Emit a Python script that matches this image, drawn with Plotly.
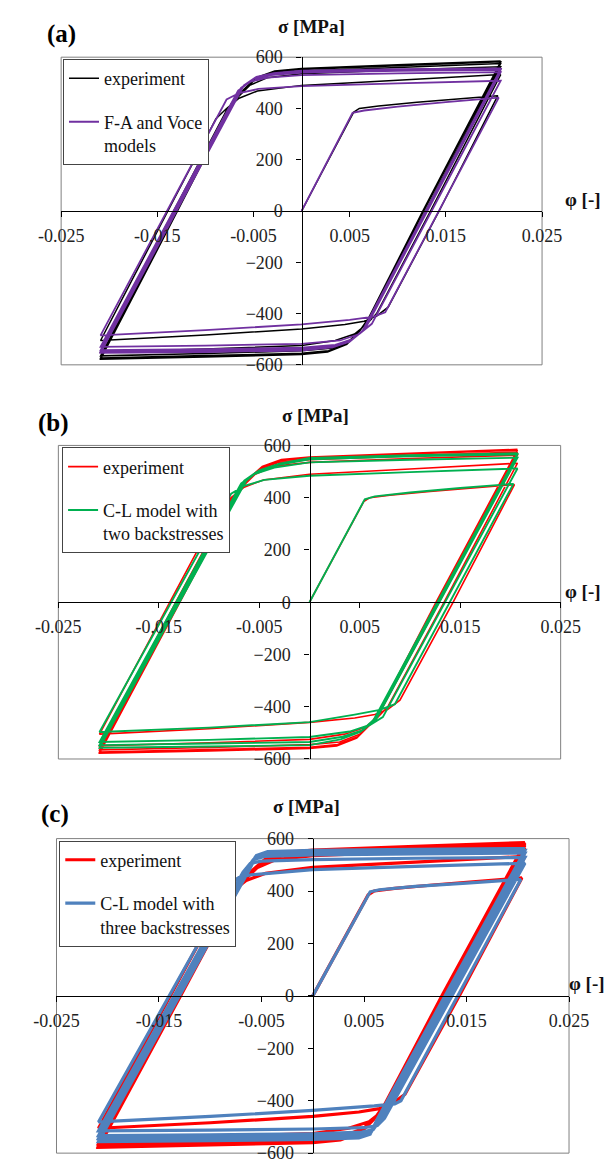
import plotly.graph_objects as go

# ---------------- data (strain phi [-], stress sigma [MPa]) ----------------
# Experiment (same test shown in all three panels), one list per loading branch
exp_strain = [
    [0.0, 0.0054, 0.0060, 0.0080, 0.0120, 0.0160, 0.0204],
    [0.0204, 0.0143, 0.0090, 0.0078, 0.0065, 0.0045, 0.0, -0.0100, -0.0209],
    [-0.0209, -0.0139, -0.0089, -0.0078, -0.0065, -0.0046, 0.0, 0.0100, 0.0207],
    [0.0207, 0.0134, 0.0078, 0.0068, 0.0055, 0.0035, 0.0, -0.0100, -0.0209],
    [-0.0209, -0.0133, -0.0077, -0.0066, -0.0054, -0.0036, 0.0, 0.0100, 0.0207],
    [0.0207, 0.0129, 0.0073, 0.0063, 0.0050, 0.0030, 0.0, -0.0100, -0.0209],
    [-0.0209, -0.0131, -0.0073, -0.0062, -0.0049, -0.0031, 0.0, 0.0100, 0.0207],
    [0.0207, 0.0127, 0.0071, 0.0061, 0.0048, 0.0028, 0.0, -0.0100, -0.0209],
    [-0.0209, -0.0130, -0.0071, -0.0061, -0.0048, -0.0029, 0.0, 0.0100, 0.0207],
    [0.0207, 0.0126, 0.0070, 0.0060, 0.0047, 0.0027, 0.0, -0.0100, -0.0209],
    [-0.0209, -0.0129, -0.0070, -0.0060, -0.0047, -0.0028, 0.0, 0.0100, 0.0207],
]
exp_stress = [
    [0, 385, 400, 410, 424, 437, 450],
    [450, 0, -375, -410, -430, -443, -460, -484, -505],
    [-505, 0, 360, 400, 440, 468, 490, 510, 532],
    [532, 0, -400, -440, -480, -505, -525, -538, -550],
    [-550, 0, 400, 445, 490, 520, 535, 550, 563],
    [563, 0, -400, -455, -505, -535, -545, -556, -565],
    [-565, 0, 420, 465, 510, 535, 545, 560, 575],
    [575, 0, -410, -465, -515, -545, -555, -564, -573],
    [-573, 0, 425, 470, 515, 542, 552, 567, 582],
    [582, 0, -415, -470, -520, -550, -560, -569, -578],
    [-578, 0, 430, 475, 520, 546, 556, 570, 585],
]

# (a) F-A and Voce models
fa_strain = [
    [0.0, 0.0053, 0.0065, 0.0100, 0.0150, 0.0205],
    [0.0205, 0.0087, 0.0075, 0.0050, 0.0, -0.0100, -0.0209],
    [-0.0209, -0.0078, -0.0065, -0.0045, 0.0, 0.0100, 0.0207],
    [0.0207, 0.0073, 0.0060, 0.0040, 0.0, -0.0100, -0.0209],
    [-0.0209, -0.0066, -0.0053, -0.0035, 0.0, 0.0100, 0.0207],
    [0.0207, 0.0066, 0.0053, 0.0035, 0.0, -0.0100, -0.0209],
    [-0.0209, -0.0063, -0.0050, -0.0032, 0.0, 0.0100, 0.0207],
    [0.0207, 0.0064, 0.0051, 0.0033, 0.0, -0.0100, -0.0209],
    [-0.0209, -0.0061, -0.0048, -0.0030, 0.0, 0.0100, 0.0207],
    [0.0207, 0.0063, 0.0050, 0.0032, 0.0, -0.0100, -0.0209],
    [-0.0209, -0.0060, -0.0047, -0.0029, 0.0, 0.0100, 0.0207],
]
fa_stress = [
    [0, 383, 392, 407, 425, 442],
    [442, -395, -412, -425, -442, -465, -485],
    [-485, 435, 460, 476, 487, 498, 508],
    [508, -440, -480, -505, -518, -525, -530],
    [-530, 470, 505, 520, 530, 537, 542],
    [542, -460, -500, -522, -533, -539, -543],
    [-543, 480, 515, 530, 540, 547, 551],
    [551, -465, -505, -528, -540, -546, -550],
    [-550, 485, 520, 535, 545, 551, 554],
    [554, -470, -510, -532, -544, -550, -553],
    [-553, 490, 523, 538, 547, 553, 556],
]

# (b) C-L model with two backstresses
cl2_strain = [
    [0.0, 0.0055, 0.0065, 0.0100, 0.0150, 0.0203],
    [0.0203, 0.0085, 0.0070, 0.0045, 0.0, -0.0100, -0.0209],
    [-0.0209, -0.0078, -0.0065, -0.0045, 0.0, 0.0100, 0.0207],
    [0.0207, 0.0073, 0.0060, 0.0040, 0.0, -0.0100, -0.0209],
    [-0.0209, -0.0068, -0.0055, -0.0035, 0.0, 0.0100, 0.0207],
    [0.0207, 0.0066, 0.0053, 0.0033, 0.0, -0.0100, -0.0209],
    [-0.0209, -0.0065, -0.0052, -0.0032, 0.0, 0.0100, 0.0207],
    [0.0207, 0.0064, 0.0051, 0.0031, 0.0, -0.0100, -0.0209],
    [-0.0209, -0.0063, -0.0050, -0.0030, 0.0, 0.0100, 0.0207],
]
cl2_stress = [
    [0, 394, 405, 420, 437, 453],
    [453, -390, -412, -430, -459, -480, -497],
    [-497, 415, 445, 468, 484, 498, 512],
    [512, -440, -470, -495, -516, -527, -535],
    [-535, 455, 490, 515, 535, 545, 553],
    [553, -450, -490, -515, -535, -541, -547],
    [-547, 465, 500, 525, 547, 558, 566],
    [566, -450, -495, -525, -547, -552, -557],
    [-557, 465, 505, 530, 552, 563, 570],
]

# (c) C-L model with three backstresses
cl3_strain = [
    [0.0, 0.0056, 0.0065, 0.0100, 0.0150, 0.0203],
    [0.0203, 0.0086, 0.0080, 0.0060, 0.0, -0.0100, -0.0209],
    [-0.0209, -0.0077, -0.0072, -0.0060, 0.0, 0.0100, 0.0207],
    [0.0207, 0.0070, 0.0063, 0.0050, 0.0, -0.0100, -0.0209],
    [-0.0209, -0.0068, -0.0061, -0.0050, 0.0, 0.0100, 0.0207],
    [0.0207, 0.0066, 0.0059, 0.0048, 0.0, -0.0100, -0.0209],
    [-0.0209, -0.0065, -0.0058, -0.0047, 0.0, 0.0100, 0.0207],
    [0.0207, 0.0064, 0.0057, 0.0046, 0.0, -0.0100, -0.0209],
    [-0.0209, -0.0063, -0.0056, -0.0045, 0.0, 0.0100, 0.0207],
    [0.0207, 0.0063, 0.0056, 0.0045, 0.0, -0.0100, -0.0209],
    [-0.0209, -0.0062, -0.0055, -0.0044, 0.0, 0.0100, 0.0207],
]
cl3_stress = [
    [0, 397, 405, 418, 430, 444],
    [444, -400, -412, -420, -437, -460, -481],
    [-481, 440, 452, 462, 482, 494, 506],
    [506, -467, -495, -503, -508, -512, -515],
    [-515, 472, 505, 514, 520, 525, 528],
    [528, -472, -510, -520, -526, -530, -533],
    [-533, 480, 520, 532, 538, 542, 545],
    [545, -470, -520, -532, -538, -542, -545],
    [-545, 480, 530, 542, 548, 552, 555],
    [555, -470, -528, -542, -548, -552, -556],
    [-556, 480, 535, 550, 555, 559, 562],
]

x_ticks = [-0.025, -0.015, -0.005, 0.005, 0.015, 0.025]
x_ticktext = ["-0.025", "-0.015", "-0.005", "0.005", "0.015", "0.025"]
y_ticks = [-600, -400, -200, 0, 200, 400, 600]

panel_letters = ["(a)", "(b)", "(c)"]
model_names = ["F-A and Voce<br>models", "C-L model with<br>two backstresses",
               "C-L model with<br>three backstresses"]

# ---------------- layout helpers ----------------
W, H = 616, 1171
FONT = "Liberation Serif, Times New Roman, Times, DejaVu Serif, serif"


def join(branches):
    out = []
    for i, b in enumerate(branches):
        out.extend(b if i == 0 else b[1:])
    return out


# plot boxes in pixels: left, right, top, bottom
boxes = [(41, 558, 48, 361), (38, 578, 443, 762), (36, 587, 843, 1163)]
models = [(fa_strain, fa_stress), (cl2_strain, cl2_stress), (cl3_strain, cl3_stress)]
exp_colors = ["#000000", "#FF0000", "#FF0000"]
model_colors = ["#7030A0", "#00B050", "#4F81BD"]
exp_widths = [1.5, 1.6, 3.2]
model_widths = [1.8, 1.9, 3.2]
legend_pos = [(43, 50), (42, 445), (39, 845)]
letter_pos = [(41, 24), (33, 420), (34, 818)]
sigma_pos = [(310, 17), (314, 413), (305, 810)]
phi_pos = [(581, 193), (581, 592), (585, 990)]

fig = go.Figure()
layout = dict(
    width=W, height=H, autosize=False,
    margin=dict(l=0, r=0, t=0, b=0),
    paper_bgcolor="white", plot_bgcolor="white",
    font=dict(family=FONT, size=18, color="#111"),
    shapes=[], annotations=[],
)

for i in range(3):
    l, r, t, b = boxes[i]
    xd = [l / W, r / W]
    yd = [1 - b / H, 1 - t / H]
    sfx = "" if i == 0 else str(i + 1)
    xa, ya = "x" + sfx, "y" + sfx
    lg = "legend" + sfx

    fig.add_trace(go.Scatter(
        x=join(exp_strain), y=join(exp_stress), mode="lines",
        line=dict(color=exp_colors[i], width=exp_widths[i]),
        name="experiment", xaxis=xa, yaxis=ya, legend=lg, legendgroup="e" + sfx))
    ms, mt = models[i]
    fig.add_trace(go.Scatter(
        x=join(ms), y=join(mt), mode="lines",
        line=dict(color=model_colors[i], width=model_widths[i]),
        name=model_names[i], xaxis=xa, yaxis=ya, legend=lg, legendgroup="m" + sfx))

    layout["xaxis" + sfx] = dict(
        domain=xd, range=[-0.025, 0.025], anchor="free",
        position=(yd[0] + yd[1]) / 2,
        showline=True, linecolor="black", linewidth=1.3,
        ticks="outside", ticklen=5, tickcolor="black", tickwidth=1,
        tickvals=x_ticks, ticktext=x_ticktext, showgrid=False, zeroline=False,
        tickfont=dict(family=FONT, size=18, color="#222"), ticklabelstandoff=3,
    )
    layout["yaxis" + sfx] = dict(
        domain=yd, range=[-600, 600], anchor="free",
        position=(xd[0] + xd[1]) / 2,
        showline=True, linecolor="black", linewidth=1.3,
        ticks="outside", ticklen=5, tickcolor="black", tickwidth=1,
        tickvals=y_ticks, showgrid=False, zeroline=False,
        tickfont=dict(family=FONT, size=18, color="#222"), ticklabelstandoff=10,
    )
    layout["shapes"].append(dict(
        type="rect", xref="paper", yref="paper",
        x0=xd[0], x1=xd[1], y0=yd[0], y1=yd[1],
        line=dict(color="#808080", width=1), layer="below"))

    lx, ly = legend_pos[i]
    layout[lg] = dict(
        x=lx / W, y=1 - ly / H, xanchor="left", yanchor="top",
        bgcolor="white", bordercolor="#444", borderwidth=1,
        font=dict(family=FONT, size=18, color="#111"),
        tracegroupgap=17, valign="top", itemwidth=30,
    )

    px, py = letter_pos[i]
    layout["annotations"].append(dict(
        text="<b>" + panel_letters[i] + "</b>", x=px / W, y=1 - py / H,
        xref="paper", yref="paper", showarrow=False,
        xanchor="center", yanchor="middle",
        font=dict(family=FONT, size=25, color="black")))
    sx, sy = sigma_pos[i]
    layout["annotations"].append(dict(
        text="<b>σ [MPa]</b>", x=sx / W, y=1 - sy / H,
        xref="paper", yref="paper", showarrow=False,
        xanchor="center", yanchor="middle",
        font=dict(family=FONT, size=19, color="#111")))
    fx, fy = phi_pos[i]
    layout["annotations"].append(dict(
        text="<b>φ [-]</b>", x=fx / W, y=1 - fy / H,
        xref="paper", yref="paper", showarrow=False,
        xanchor="left", yanchor="middle",
        font=dict(family=FONT, size=19, color="#111")))

fig.update_layout(**layout)
fig.write_html("out.html", config={"displayModeBar": False},
               post_script="document.body.style.margin='0';document.body.style.padding='0';")
